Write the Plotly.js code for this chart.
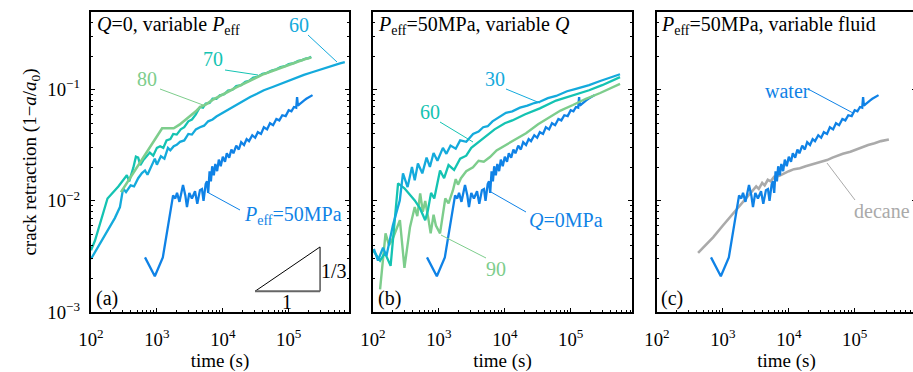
<!DOCTYPE html>
<html><head><meta charset="utf-8">
<script src="https://cdn.plot.ly/plotly-3.0.1.min.js"></script>
<style>
html,body{margin:0;padding:0;overflow:hidden;background:#fff}
#chart svg text{font-family:"Liberation Serif","Times New Roman",serif !important}
</style>
</head><body><div id="chart"></div>
<script>
// ---------- data (time in s, crack retraction 1-a/a0) ----------
// water, Peff = 50 MPa, Q = 0 (same run shown in all three panels)
const water = [[660,3.1e-3],[930,2.1e-3],[1230,3.1e-3],[1760,0.0112],[1900,0.0105],[2020,0.0118],[2200,0.0098],[2490,0.0139],[2700,0.0112],[2860,0.0088],[3100,0.0118],[3400,0.0105],[3790,0.0122],[4100,0.0094],[4500,0.0125],[4830,0.0128],[5100,0.0100],[5500,0.0142],[5760,0.0150],[6000,0.0118],[6300,0.0185],[6600,0.0150],[6900,0.0205],[7300,0.0170],[7700,0.0215],[8200,0.0185],[8700,0.0235],[9300,0.0205],[10000,0.0250],[10800,0.0225],[11500,0.0268],[12500,0.0245],[13500,0.0290],[14500,0.0268],[16000,0.0315],[17500,0.0290],[19000,0.0338],[21000,0.0318],[23000,0.0360],[25000,0.0345],[28000,0.0390],[31000,0.0370],[34000,0.0415],[38000,0.0400],[42000,0.0460],[47000,0.0440],[52000,0.0500],[58000,0.0480],[65000,0.0545],[72000,0.0530],[80000,0.0590],[90000,0.0580],[100000,0.0655],[110000,0.0640],[120000,0.0700],[130000,0.0690],[134000,0.0860],[138000,0.0720],[145000,0.0740],[155000,0.0770],[170000,0.0800],[185000,0.0830],[200000,0.0855],[215000,0.0875],[230000,0.0895]];
// panel (a): Q = 0, Peff = 60, 70, 80 MPa
const peff60 = [[100,3.0e-3],[160,4.8e-3],[230,7.0e-3],[275,8.8e-3],[307,0.0129],[340,0.0120],[400,0.0138],[450,0.0135],[520,0.0160],[593,0.0178],[660,0.0188],[720,0.0172],[820,0.0205],[930,0.0240],[1000,0.0212],[1150,0.0252],[1300,0.0240],[1470,0.0300],[1600,0.0285],[1800,0.0310],[2000,0.0320],[2240,0.0340],[2600,0.0350],[3000,0.0400],[3400,0.0395],[3900,0.0440],[4500,0.0460],[5200,0.0475],[6000,0.0520],[7000,0.0540],[8000,0.0575],[9500,0.0610],[11500,0.0660],[14000,0.0700],[17000,0.0750],[21000,0.0800],[26000,0.0860],[33000,0.0920],[42000,0.0990],[57000,0.1060],[75000,0.1130],[100000,0.1210],[130000,0.1290],[170000,0.1360],[220000,0.1430],[280000,0.1500],[380000,0.1590],[500000,0.1680],[600000,0.1730],[710000,0.1770]];
const peff70 = [[100,3.6e-3],[115,4.4e-3],[178,0.0105],[260,0.0135],[350,0.0170],[380,0.0150],[440,0.0200],[480,0.0250],[520,0.0245],[560,0.0210],[620,0.0232],[700,0.0250],[780,0.0272],[880,0.0255],[1000,0.0300],[1120,0.0310],[1250,0.0300],[1400,0.0350],[1600,0.0360],[1770,0.0400],[2000,0.0395],[2300,0.0440],[2600,0.0460],[3000,0.0520],[3400,0.0540],[3900,0.0600],[4500,0.0700],[5000,0.0690],[5500,0.0750],[6300,0.0760],[7000,0.0830],[8000,0.0830],[9000,0.0890],[10500,0.0910],[12000,0.0985],[14000,0.1000],[16000,0.1080],[19000,0.1100],[22000,0.1180],[25000,0.1200],[29000,0.1290],[34000,0.1310],[40000,0.1390],[47000,0.1420],[55000,0.1490],[65000,0.1530],[75000,0.1600],[88000,0.1630],[100000,0.1700],[120000,0.1740],[140000,0.1820],[160000,0.1850],[180000,0.1910],[200000,0.1930],[220000,0.1980]];
const peff80 = [[285,0.0120],[1200,0.0450],[1500,0.0450],[1800,0.0450],[2200,0.0485],[2700,0.0535],[3300,0.0595],[3900,0.0640],[4500,0.0700],[5500,0.0735],[7000,0.0810],[9000,0.0870],[12000,0.0960],[16000,0.1050],[22000,0.1150],[29000,0.1265],[40000,0.1370],[55000,0.1470],[75000,0.1580],[100000,0.1680],[140000,0.1800],[180000,0.1890],[220000,0.1955]];
// panel (b): Peff = 50 MPa, Q = 30, 60, 90 MPa
const q30 = [[103,3.7e-3],[119,2.9e-3],[142,3.8e-3],[160,3.2e-3],[200,6.0e-3],[235,8.8e-3],[255,0.0101],[285,0.0177],[335,0.0133],[390,0.0202],[430,0.0153],[480,0.0217],[560,0.0177],[650,0.0245],[730,0.0202],[830,0.0270],[950,0.0230],[1150,0.0300],[1300,0.0265],[1500,0.0315],[1800,0.0295],[2100,0.0350],[2600,0.0340],[3300,0.0400],[4000,0.0420],[4700,0.0460],[5500,0.0470],[6500,0.0520],[8000,0.0560],[10400,0.0620],[13000,0.0640],[17000,0.0690],[22000,0.0720],[28000,0.0760],[34000,0.0780],[45000,0.0840],[60000,0.0880],[88000,0.0970],[120000,0.1020],[190000,0.1100],[280000,0.1200],[400000,0.1290],[560000,0.1380]];
const q60 = [[100,3.6e-3],[128,2.9e-3],[152,3.4e-3],[185,2.6e-3],[240,0.0144],[300,0.0130],[430,0.0101],[515,8.6e-3],[620,6.7e-3],[680,8.2e-3],[760,0.0118],[850,0.0105],[1040,0.0188],[1200,0.0160],[1400,0.0210],[1700,0.0190],[2100,0.0240],[2600,0.0255],[3100,0.0300],[3800,0.0330],[5000,0.0380],[7000,0.0440],[10000,0.0500],[13000,0.0530],[20000,0.0600],[34000,0.0680],[60000,0.0800],[100000,0.0880],[190000,0.0990],[300000,0.1100],[420000,0.1200],[560000,0.1300]];
const q90 = [[128,1.6e-3],[155,5.1e-3],[175,4.0e-3],[200,4.6e-3],[256,6.7e-3],[300,2.5e-3],[364,5.8e-3],[430,8.8e-3],[470,7.3e-3],[520,0.0117],[570,8.0e-3],[620,0.0100],[690,7.0e-3],[750,5.1e-3],[830,7.5e-3],[900,6.0e-3],[1040,5.1e-3],[1250,0.0105],[1400,0.0095],[1630,0.0124],[1800,0.0157],[1950,0.0140],[2160,0.0160],[2600,0.0185],[3290,0.0201],[4000,0.0230],[4800,0.0225],[5960,0.0248],[7500,0.0285],[10400,0.0318],[15000,0.0360],[21000,0.0406],[32000,0.0490],[48500,0.0573],[70000,0.0650],[108000,0.0729],[170000,0.0830],[280000,0.0935],[400000,0.1030],[560000,0.1130]];
// panel (c): decane
const decane = [[420,3.4e-3],[550,4.0e-3],[710,4.7e-3],[1000,6.0e-3],[1420,7.7e-3],[2000,9.8e-3],[2570,0.0117],[2900,0.0125],[3200,0.0135],[3500,0.0128],[3950,0.0145],[4300,0.0138],[4800,0.0155],[5300,0.0150],[6000,0.0165],[7200,0.0168],[8500,0.0178],[10000,0.0185],[12000,0.0193],[14700,0.0197],[18000,0.0205],[22000,0.0212],[27000,0.0220],[32000,0.0225],[38000,0.0233],[46000,0.0245],[55000,0.0255],[66000,0.0265],[86000,0.0277],[105000,0.0290],[130000,0.0305],[160000,0.0318],[200000,0.0330],[250000,0.0345],[330000,0.0357]];
// slope triangle (1/3) in panel (a)
const triHypX = [30800, 299000, 299000];
const triHypY = [1.536e-3, 3.85e-3, 1.536e-3];
const triBaseX = [30800, 299000];
const triBaseY = [1.536e-3, 1.536e-3];

// ---------- styling ----------
const FONT = 'Liberation Serif';
const C_BLUE = '#0f82e6', C_CYAN = '#14aadc', C_TEAL = '#14c3b2', C_GREEN = '#7dcd8c', C_GRAY = '#aaaaaa';
const W = 916, H = 372, ML = 91, MT = 12, MB = 60;
const PW = W - ML, PH = H - MT - MB;
const PX = x => (x - ML) / PW;
const PY = y => (H - MB - y) / PH;

function tr(pairs, color, xa, ya, w) {
  return {x: pairs.map(p => p[0]), y: pairs.map(p => p[1]), type: 'scatter', mode: 'lines',
    line: {color: color, width: w || 2.3}, xaxis: xa, yaxis: ya, hoverinfo: 'skip', showlegend: false};
}
const data = [
  tr(peff60, C_CYAN, 'x', 'y'), tr(water, C_BLUE, 'x', 'y'), tr(peff70, C_TEAL, 'x', 'y'), tr(peff80, C_GREEN, 'x', 'y', 2.6),
  tr(water, C_BLUE, 'x2', 'y2'), tr(q90, C_GREEN, 'x2', 'y2', 2.4), tr(q60, C_TEAL, 'x2', 'y2'), tr(q30, C_CYAN, 'x2', 'y2'),
  tr(decane, C_GRAY, 'x3', 'y3', 2.6), tr(water, C_BLUE, 'x3', 'y3'),
  {x: triHypX, y: triHypY, type: 'scatter', mode: 'lines', line: {color: '#000', width: 1}, xaxis: 'x', yaxis: 'y', hoverinfo: 'skip', showlegend: false},
  {x: triBaseX, y: triBaseY, type: 'scatter', mode: 'lines', line: {color: '#666', width: 2}, xaxis: 'x', yaxis: 'y', hoverinfo: 'skip', showlegend: false}
];

function axBase() {
  return {type: 'log', color: '#000', showline: true, linecolor: '#000', linewidth: 2, mirror: true,
    ticks: 'inside', ticklen: 4, tickwidth: 1.2, tickcolor: '#000', showgrid: false, zeroline: false,
    tickmode: 'linear', dtick: 1, tick0: 0, exponentformat: 'power',
    tickfont: {family: FONT, size: 15, color: '#000'},
    minor: {ticks: 'inside', ticklen: 2, tickwidth: 1, tickcolor: '#000', showgrid: false}};
}
function xax(d0, d1, r1, anchor) {
  return Object.assign(axBase(), {domain: [PX(d0), PX(d1)], range: [2, r1], anchor: anchor, ticklabelstandoff: 10,
    title: {text: 'time (s)', font: {family: FONT, size: 19, color: '#000'}, standoff: 4}});
}
function yax(anchor, labels) {
  const a = Object.assign(axBase(), {domain: [0, 1], range: [-3, -0.30], anchor: anchor, mirror: 'allticks', showticklabels: labels, ticklabelstandoff: 6});
  if (labels) a.title = {text: 'crack retraction (1\u2212<i>a</i>/<i>a</i><sub>0</sub>)', font: {family: FONT, size: 19, color: '#000'}, standoff: 6};
  return a;
}

function ann(text, x, y, color, xanchor) {
  return {text: text, x: PX(x), y: PY(y), xref: 'paper', yref: 'paper', showarrow: false,
    xanchor: xanchor || 'center', yanchor: 'middle', font: {family: FONT, size: 20, color: color}};
}
function lead(x0, y0, x1, y1, color) {
  return {type: 'line', xref: 'paper', yref: 'paper', x0: PX(x0), y0: PY(y0), x1: PX(x1), y1: PY(y1), line: {color: color, width: 1}};
}

const layout = {
  width: W, height: H, margin: {l: ML, r: 0, t: MT, b: MB}, paper_bgcolor: '#fff', plot_bgcolor: '#fff',
  font: {family: FONT, size: 15, color: '#000'},
  xaxis: xax(91, 349, 5.915, 'y'), xaxis2: xax(373, 632, 5.93, 'y2'), xaxis3: xax(657, 916, 5.93, 'y3'),
  yaxis: yax('x', true), yaxis2: yax('x2', false), yaxis3: yax('x3', false),
  annotations: [
    ann('<i>Q</i>=0, variable <i>P</i><sub>eff</sub>', 95, 25, '#000', 'left'),
    ann('<i>P</i><sub>eff</sub>=50MPa, variable <i>Q</i>', 376, 25, '#000', 'left'),
    ann('<i>P</i><sub>eff</sub>=50MPa, variable fluid', 659, 25, '#000', 'left'),
    ann('(a)', 107, 298, '#000'), ann('(b)', 389, 298, '#000'), ann('(c)', 672, 298, '#000'),
    ann('60', 299, 25, C_CYAN), ann('70', 213, 59, C_TEAL), ann('80', 147, 79, C_GREEN),
    ann('<i>P</i><sub>eff</sub>=50MPa', 242, 215, C_BLUE, 'left'),
    ann('30', 495, 79, C_CYAN), ann('60', 430, 112, C_TEAL), ann('90', 496, 269, C_GREEN),
    ann('<i>Q</i>=0MPa', 527, 220, C_BLUE, 'left'),
    ann('water', 787, 91, C_BLUE), ann('decane', 882, 211, C_GRAY),
    ann('1/3', 334, 271, '#000'), ann('1', 287, 302, '#000')
  ],
  shapes: [
    lead(308, 35, 337, 62, C_CYAN), lead(225, 70, 258, 75, C_TEAL), lead(160, 89, 203, 105, C_GREEN),
    lead(240, 210, 207, 192, C_BLUE),
    lead(506, 89, 540, 103, C_CYAN), lead(440, 122, 473, 142, C_TEAL), lead(486, 258, 441, 235, C_GREEN),
    lead(526, 212, 491, 192, C_BLUE),
    lead(808, 89, 853, 113, C_BLUE), lead(855, 200, 827, 163, C_GRAY)
  ]
};
Plotly.newPlot('chart', data, layout, {displayModeBar: false});
</script></body></html>
